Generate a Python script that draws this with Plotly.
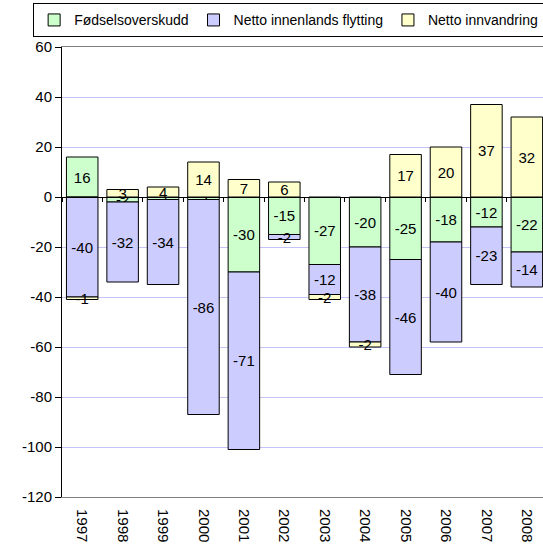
import plotly.graph_objects as go

# ── data ──────────────────────────────────────────────────────────────────────
years = ["1997", "1998", "1999", "2000", "2001", "2002",
         "2003", "2004", "2005", "2006", "2007", "2008"]
fodsel = [16, -2, -1, -1, -30, -15, -27, -20, -25, -18, -12, -22]
innenlands = [-40, -32, -34, -86, -71, -2, -12, -38, -46, -40, -23, -14]
innvandring = [-1, 3, 4, 14, 7, 6, -2, -2, 17, 20, 37, 32]

y_ticks = [60, 40, 20, 0, -20, -40, -60, -80, -100, -120]
y_ticktext = ["60", "40", "20", "0", "-20", "-40", "-60", "-80", "-100", "-120"]

# ── colour tokens ─────────────────────────────────────────────────────────────
_C_GREEN = "#ccffcc"
_C_PURPLE = "#ccccff"
_C_YELLOW = "#ffffcc"
_C_GRID = "#c4c4f8"
_C_FRAME = "#808080"
_FONT = "Arial, Liberation Sans, sans-serif"

series = [
    ("Fødselsoverskudd", fodsel, _C_GREEN),
    ("Netto innenlands flytting", innenlands, _C_PURPLE),
    ("Netto innvandring", innvandring, _C_YELLOW),
]

fig = go.Figure()
for name, vals, col in series:
    fig.add_trace(go.Bar(
        x=years, y=vals, name=name,
        marker=dict(color=col, line=dict(color="black", width=1)),
        text=[str(v) for v in vals],
        textposition="inside", insidetextanchor="middle",
        constraintext="none", textangle=0,
        textfont=dict(family=_FONT, size=15, color="black"),
        width=0.78,
    ))

# invisible trace so the zero-line tick axis is drawn
fig.add_trace(go.Scatter(x=years, y=[0] * len(years), xaxis="x2",
                         mode="markers", marker=dict(opacity=0),
                         showlegend=False, hoverinfo="skip"))

fig.update_layout(
    template="none",
    width=543, height=544,
    barmode="relative", bargap=0.2,
    plot_bgcolor="white", paper_bgcolor="white",
    margin=dict(l=62, r=0, t=47, b=47, autoexpand=False),
    font=dict(family=_FONT, size=15, color="black"),
    legend=dict(
        orientation="h", x=-0.06, y=1.097, xanchor="left", yanchor="top",
        bordercolor="black", borderwidth=1,
        font=dict(family=_FONT, size=14, color="black"),
        traceorder="normal", itemwidth=30,
    ),
    xaxis=dict(
        type="category", range=[-0.5, 11.4], automargin=False,
        tickangle=90, showgrid=False, ticklabelstandoff=8,
        showline=True, linecolor=_C_FRAME, linewidth=1, mirror=True,
        ticks="", tickfont=dict(size=15),
    ),
    xaxis2=dict(
        type="category", overlaying="x", matches="x", automargin=False,
        anchor="free", position=2 / 3, side="bottom",
        showline=True, linecolor="black", linewidth=1,
        ticks="outside", tickson="boundaries", ticklen=4,
        tickcolor="black", showticklabels=False, showgrid=False,
    ),
    yaxis=dict(
        range=[-120, 60], automargin=False,
        tickmode="array", tickvals=y_ticks, ticktext=y_ticktext,
        showgrid=True, gridcolor=_C_GRID, gridwidth=1,
        zeroline=False,
        showline=True, linecolor="black", linewidth=1,
        ticks="outside", ticklen=6, tickcolor="black",
        tickfont=dict(size=15),
    ),
)

# the page's default 8px body margin would shift the whole chart
fig.write_html("out.html", config={"displayModeBar": False},
               post_script="document.body.style.margin='0';")
